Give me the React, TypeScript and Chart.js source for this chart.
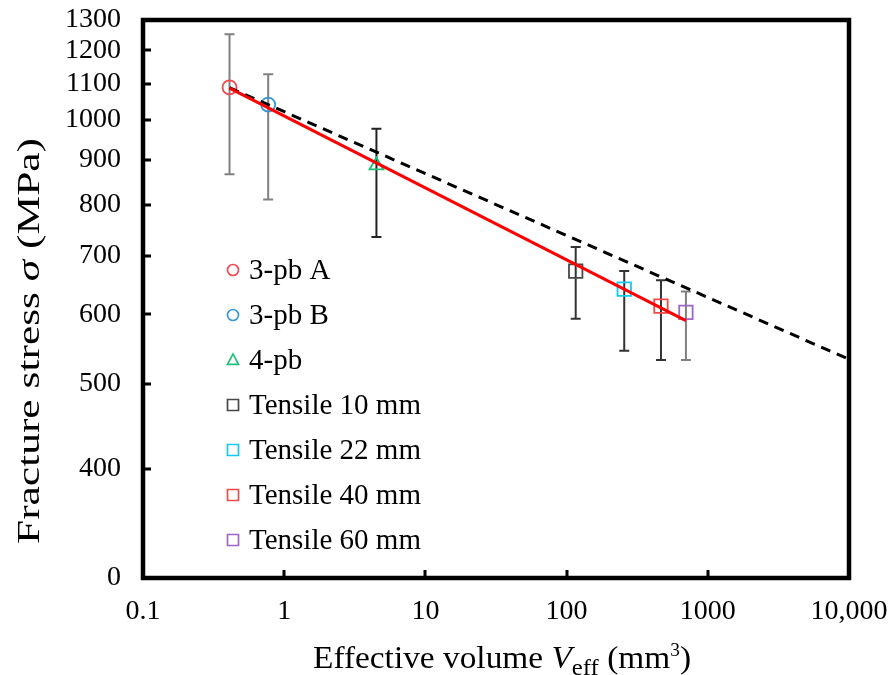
import React, { useEffect, useRef } from 'react';
import { Chart, registerables } from 'chart.js';

Chart.register(...registerables);

// ---- data ----
const seriesNames = ['3-pb A', '3-pb B', '4-pb', 'Tensile 10 mm', 'Tensile 22 mm', 'Tensile 40 mm', 'Tensile 60 mm'];
const seriesColors = ['#f5474f', '#3b97d6', '#1fbf7a', '#474747', '#12c8f5', '#f04a4a', '#a066c8'];
const seriesStyles = ['circle', 'circle', 'triangle', 'rect', 'rect', 'rect', 'rect'];
const volumes = [0.41, 0.77, 4.5, 116, 256, 466, 700];
const stress = [1089, 1041, 887, 672, 641, 613, 603];
const errHigh = [1252, 1127, 977, 716, 672, 656, 637];
const errLow = [867, 811, 735, 593, 545, 532, 532];
const errColors = ['#808080', '#808080', '#222222', '#333333', '#333333', '#333333', '#808080'];

const fitX = [0.41, 700];
const fitY = [1087, 590];
const dashX = [0.41, 10000];
const dashY = [1088, 533];

const xTickValues = [0.1, 1, 10, 100, 1000, 10000];
const xTickLabels = ['0.1', '1', '10', '100', '1000', '10,000'];
const yTickValues = [300, 400, 500, 600, 700, 800, 900, 1000, 1100, 1200, 1300];
const yTickLabels = ['0', '400', '500', '600', '700', '800', '900', '1000', '1100', '1200', '1300'];

const SERIF = '"Liberation Serif", "Times New Roman", serif';

function drawMarker(ctx: CanvasRenderingContext2D, style: string, x: number, y: number, r: number, color: string, lw: number) {
  ctx.save();
  ctx.strokeStyle = color;
  ctx.lineWidth = lw;
  ctx.beginPath();
  if (style === 'circle') {
    ctx.arc(x, y, r, 0, Math.PI * 2);
  } else if (style === 'rect') {
    ctx.rect(x - r, y - r, 2 * r, 2 * r);
  } else {
    ctx.moveTo(x, y - r * 1.1);
    ctx.lineTo(x + r, y + r * 0.8);
    ctx.lineTo(x - r, y + r * 0.8);
    ctx.closePath();
  }
  ctx.stroke();
  ctx.restore();
}

type Run = { t: string; size: number; italic?: boolean; dy?: number };

function runsWidth(ctx: CanvasRenderingContext2D, runs: Run[]) {
  let w = 0;
  for (const r of runs) {
    ctx.font = `${r.italic ? 'italic ' : ''}${r.size}px ${SERIF}`;
    w += ctx.measureText(r.t).width;
  }
  return w;
}

// draws runs centred on (0, baseline) in the current transform, stretched to targetW
function drawRunsFit(ctx: CanvasRenderingContext2D, runs: Run[], targetW: number) {
  const w = runsWidth(ctx, runs);
  const sx = targetW / w;
  ctx.save();
  ctx.scale(sx, 1);
  let x = -w / 2;
  for (const r of runs) {
    ctx.font = `${r.italic ? 'italic ' : ''}${r.size}px ${SERIF}`;
    ctx.fillText(r.t, x, r.dy || 0);
    x += ctx.measureText(r.t).width;
  }
  ctx.restore();
}

const customPlugin = {
  id: 'customDecor',
  beforeDatasetsDraw(chart: any) {
    const ctx: CanvasRenderingContext2D = chart.ctx;
    const xs = chart.scales.x;
    const ys = chart.scales.y;
    ctx.save();
    for (let i = 0; i < volumes.length; i++) {
      const px = xs.getPixelForValue(volumes[i]);
      const pt = ys.getPixelForValue(errHigh[i]);
      const pb = ys.getPixelForValue(errLow[i]);
      ctx.strokeStyle = errColors[i];
      ctx.lineWidth = 2;
      ctx.beginPath();
      ctx.moveTo(px, pt);
      ctx.lineTo(px, pb);
      ctx.moveTo(px - 5, pt);
      ctx.lineTo(px + 5, pt);
      ctx.moveTo(px - 5, pb);
      ctx.lineTo(px + 5, pb);
      ctx.stroke();
    }
    ctx.restore();
  },
  afterDraw(chart: any) {
    const ctx: CanvasRenderingContext2D = chart.ctx;
    const a = chart.chartArea;
    const xs = chart.scales.x;
    const ys = chart.scales.y;
    ctx.save();
    // inward ticks
    ctx.strokeStyle = '#000';
    ctx.lineWidth = 3;
    ctx.beginPath();
    for (const v of xTickValues.slice(1, -1)) {
      const px = Math.round(xs.getPixelForValue(v));
      ctx.moveTo(px, a.bottom);
      ctx.lineTo(px, a.bottom - 8);
    }
    for (const v of yTickValues.slice(1, -1)) {
      const py = Math.round(ys.getPixelForValue(v));
      ctx.moveTo(a.left, py);
      ctx.lineTo(a.left + 8, py);
    }
    ctx.stroke();
    // frame
    ctx.lineWidth = 4.5;
    ctx.strokeRect(a.left, a.top, a.right - a.left, a.bottom - a.top);

    // legend
    ctx.textBaseline = 'middle';
    ctx.textAlign = 'left';
    for (let i = 0; i < seriesNames.length; i++) {
      const y = 270 + i * 45;
      drawMarker(ctx, seriesStyles[i], 233, y, 5.5, seriesColors[i], 1.7);
      ctx.font = `29px ${SERIF}`;
      ctx.fillStyle = '#000';
      ctx.fillText(seriesNames[i], 249, y + 1);
    }

    // axis titles
    ctx.textBaseline = 'alphabetic';
    ctx.fillStyle = '#000';
    const xRuns: Run[] = [
      { t: 'Effective volume ', size: 31 },
      { t: 'V', size: 31, italic: true },
      { t: 'eff', size: 23, dy: 7 },
      { t: ' (mm', size: 31 },
      { t: '3', size: 18, dy: -12 },
      { t: ')', size: 31 },
    ];
    ctx.save();
    ctx.translate(502, 668);
    drawRunsFit(ctx, xRuns, 378);
    ctx.restore();

    const yRuns: Run[] = [
      { t: 'Fracture stress ', size: 31 },
      { t: 'σ', size: 31, italic: true },
      { t: ' (MPa)', size: 31 },
    ];
    ctx.save();
    ctx.translate(39, 341);
    ctx.rotate(-Math.PI / 2);
    drawRunsFit(ctx, yRuns, 406);
    ctx.restore();
    ctx.restore();
  },
};

export default function App() {
  const canvasRef = useRef<HTMLCanvasElement | null>(null);

  useEffect(() => {
    document.body.style.margin = '0';
    const canvas = canvasRef.current;
    if (!canvas) return;

    const pointDatasets = seriesNames.map((name, i) => ({
      label: name,
      data: [{ x: volumes[i], y: stress[i] }],
      pointStyle: seriesStyles[i],
      pointRadius: seriesStyles[i] === 'circle' ? 7 : seriesStyles[i] === 'rect' ? 9.5 : 8,
      pointBorderWidth: 1.8,
      pointBorderColor: seriesColors[i],
      pointBackgroundColor: 'rgba(255,255,255,0)',
      borderColor: seriesColors[i],
      backgroundColor: 'rgba(255,255,255,0)',
      showLine: false,
      order: 2,
    }));

    const chart = new Chart(canvas, {
      type: 'scatter',
      data: {
        datasets: [
          ...pointDatasets,
          {
            label: 'fit',
            data: fitX.map((x, i) => ({ x, y: fitY[i] })),
            showLine: true,
            borderColor: '#ff0000',
            borderWidth: 3,
            pointRadius: 0,
            order: 0,
          },
          {
            label: 'dashed',
            data: dashX.map((x, i) => ({ x, y: dashY[i] })),
            showLine: true,
            borderColor: '#000000',
            borderWidth: 3,
            borderDash: [10, 7],
            pointRadius: 0,
            order: 1,
          },
        ] as any,
      },
      options: {
        animation: false,
        responsive: false,
        maintainAspectRatio: false,
        layout: { padding: { top: 20, right: 43, left: 0, bottom: 0 } },
        plugins: {
          legend: { display: false },
          tooltip: { enabled: false },
        },
        scales: {
          x: {
            type: 'logarithmic',
            min: 0.1,
            max: 10000,
            grid: { display: false, drawTicks: false },
            border: { display: false },
            afterBuildTicks: (scale: any) => {
              scale.ticks = xTickValues.map((v) => ({ value: v }));
            },
            afterFit: (scale: any) => {
              scale.height = 97;
              scale.paddingLeft = 0;
              scale.paddingRight = 0;
            },
            ticks: {
              autoSkip: false,
              maxRotation: 0,
              padding: 17,
              color: '#000',
              font: { family: SERIF, size: 28 },
              callback: (v: any) => {
                const idx = xTickValues.indexOf(Number(v));
                return idx >= 0 ? xTickLabels[idx] : '';
              },
            },
          },
          y: {
            type: 'logarithmic',
            min: 300,
            max: 1300,
            grid: { display: false, drawTicks: false },
            border: { display: false },
            afterBuildTicks: (scale: any) => {
              scale.ticks = yTickValues.map((v) => ({ value: v }));
            },
            afterFit: (scale: any) => {
              scale.width = 143;
              scale.paddingTop = 0;
              scale.paddingBottom = 0;
            },
            ticks: {
              autoSkip: false,
              padding: 22,
              color: '#000',
              font: { family: SERIF, size: 28 },
              callback: (v: any) => {
                const idx = yTickValues.indexOf(Number(v));
                return idx >= 0 ? yTickLabels[idx] : '';
              },
            },
          },
        },
      } as any,
      plugins: [customPlugin],
    });

    return () => chart.destroy();
  }, []);

  return (
    <div style={{ width: 892, height: 675, background: '#fff' }}>
      <canvas ref={canvasRef} width={892} height={675} style={{ width: 892, height: 675, display: 'block' }} />
    </div>
  );
}
